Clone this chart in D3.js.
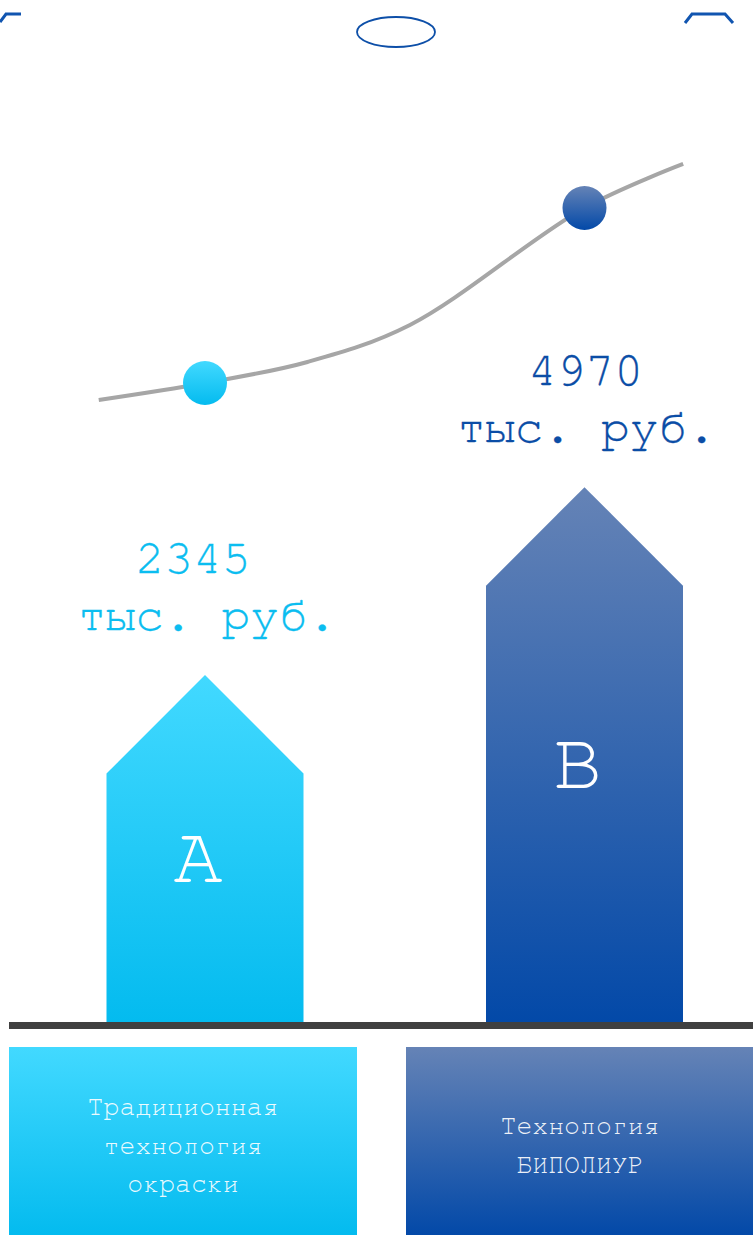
<!DOCTYPE html>
<html lang="ru">
<head>
    <meta charset="UTF-8">
    <title>Сравнение технологий окраски</title>
    <script src="https://d3js.org/d3.v7.min.js"></script>
    <style>
        body { margin: 0; background: #fff; }
        svg text { font-family: "FreeMono", "Courier New", monospace; }
    </style>
</head>
<body>
    <svg id="viz" width="753" height="1235"></svg>
    <script>
        // chart data
        const categories = ["A", "B"];
        const values = [2345, 4970];
        const unit = "тыс. руб.";
        const captions = [
            ["Традиционная", "технология", "окраски"],
            ["Технология", "БИПОЛИУР"]
        ];
        // trend curve above the bars: position along category axis, value
        const trendPos = [-0.28, 0, 0.27, 0.54, 1, 1.26];
        const trendVal = [2090, 2345, 2660, 3215, 4970, 5630];

        const width = 753;
        const height = 1235;
        const baseY = 1022;
        const barW = 197;
        const numShift = [-13, 0];   // value labels sit a bit off centre in the original

        const lightTop = "#42d9ff", lightBot = "#04bbef";
        const darkTop = "#6583b6", darkBot = "#0349a8";
        const textColors = ["#0bbdf0", "#0b4da6"];

        const svg = d3.select("#viz");
        const defs = svg.append("defs");

        // vertical gradients, one per category
        function grad(id, top, bot) {
            const g = defs.append("linearGradient").attr("id", id)
                .attr("x1", 0).attr("y1", 0).attr("x2", 0).attr("y2", 1);
            g.append("stop").attr("offset", "0%").attr("stop-color", top);
            g.append("stop").attr("offset", "100%").attr("stop-color", bot);
        }
        grad("g0", lightTop, lightBot);
        grad("g1", darkTop, darkBot);

        // scales
        const x = d3.scalePoint().domain(categories).range([205, 584.5]);
        const xt = d3.scaleLinear().domain([0, 1]).range([205, 584.5]);
        const y = d3.scaleLinear().domain([-2500, 5000]).range([baseY, 485]);
        const yt = d3.scaleLinear().domain([0, 6000]).range([539.3, 139.3]);

        // top decoration (phone frame hints)
        const deco = svg.append("g").attr("fill", "none").attr("stroke", "#1155b0");
        deco.append("path").attr("d", "M0,22 L6,14 L21,14").attr("stroke-width", 3);
        deco.append("path").attr("d", "M685,23 L692,14 L725,14 L733,23").attr("stroke-width", 3);
        deco.append("ellipse").attr("cx", 396).attr("cy", 32).attr("rx", 39).attr("ry", 15)
            .attr("stroke", "#0d4fa8").attr("stroke-width", 1.8);

        // trend curve
        const trend = trendPos.map((p, i) => [xt(p), yt(trendVal[i])]);
        svg.append("path")
            .attr("d", d3.line().curve(d3.curveCatmullRom.alpha(0.5))(trend))
            .attr("fill", "none")
            .attr("stroke", "#a6a6a6")
            .attr("stroke-width", 4);

        svg.selectAll("circle.dot")
            .data(categories)
            .join("circle")
            .attr("class", "dot")
            .attr("cx", d => x(d))
            .attr("cy", (d, i) => yt(values[i]))
            .attr("r", 22)
            .attr("fill", (d, i) => `url(#g${i})`);

        // arrow-shaped bars
        const bars = svg.selectAll("g.bar")
            .data(categories)
            .join("g")
            .attr("class", "bar");

        bars.append("path")
            .attr("d", (d, i) => {
                const cx = x(d), top = y(values[i]), h = barW / 2;
                return `M${cx - h},${baseY} L${cx - h},${top + h} L${cx},${top} L${cx + h},${top + h} L${cx + h},${baseY} Z`;
            })
            .attr("fill", (d, i) => `url(#g${i})`);

        bars.append("text")
            .attr("x", d => x(d) - 7)
            .attr("y", (d, i) => (y(values[i]) + barW / 2 + baseY) / 2 - 16)
            .attr("text-anchor", "middle")
            .attr("font-size", 82)
            .attr("fill", "#fff")
            .text(d => d);

        bars.append("text")
            .attr("x", (d, i) => x(d) + 1 + numShift[i])
            .attr("y", (d, i) => y(values[i]) - 102)
            .attr("text-anchor", "middle")
            .attr("font-size", 48)
            .attr("fill", (d, i) => textColors[i])
            .attr("stroke", (d, i) => textColors[i])
            .attr("stroke-width", 0.3)
            .text((d, i) => values[i]);

        bars.append("text")
            .attr("x", d => x(d) + 2)
            .attr("y", (d, i) => y(values[i]) - 45)
            .attr("text-anchor", "middle")
            .attr("font-size", 48)
            .attr("fill", (d, i) => textColors[i])
            .attr("stroke", (d, i) => textColors[i])
            .attr("stroke-width", 0.3)
            .text(unit);

        // baseline
        svg.append("rect")
            .attr("x", 9).attr("y", baseY)
            .attr("width", width - 9).attr("height", 7)
            .attr("fill", "#404040");

        // caption boxes
        const boxX = [9, 406], boxW = 348, boxY = 1047;
        const box = svg.selectAll("g.caption")
            .data(categories)
            .join("g")
            .attr("class", "caption");

        box.append("rect")
            .attr("x", (d, i) => boxX[i])
            .attr("y", boxY)
            .attr("width", boxW)
            .attr("height", height - boxY)
            .attr("fill", (d, i) => `url(#g${i})`);

        box.each(function (d, i) {
            const lines = captions[i];
            const cx = boxX[i] + boxW / 2;
            const mid = 1153.5;
            d3.select(this).selectAll("text")
                .data(lines)
                .join("text")
                .attr("x", cx)
                .attr("y", (t, j) => mid + (j - (lines.length - 1) / 2) * 38.5)
                .attr("text-anchor", "middle")
                .attr("font-size", 26.5)
                .attr("fill", "#fff")
                .attr("fill-opacity", 0.92)
                .text(t => t);
        });
    </script>
</body>
</html>
